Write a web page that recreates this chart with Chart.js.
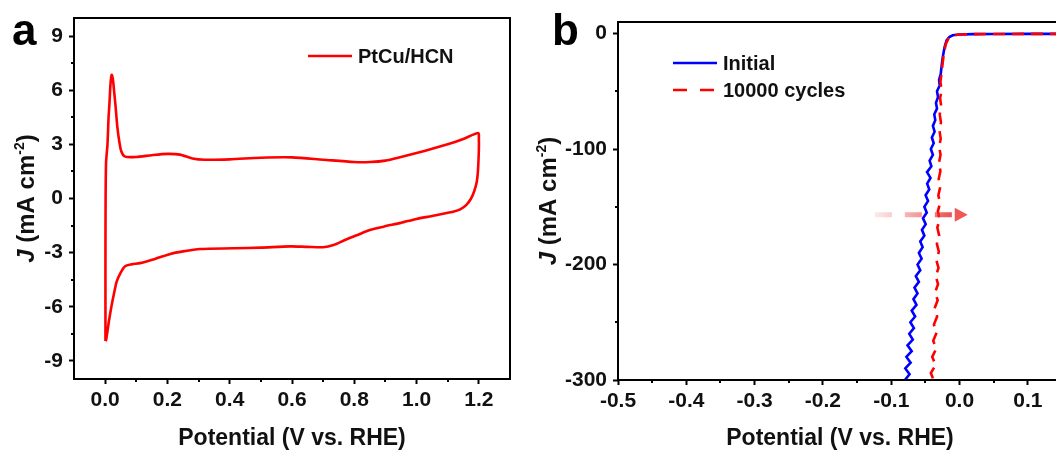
<!DOCTYPE html>
<html>
<head>
<meta charset="utf-8">
<script src="https://cdn.jsdelivr.net/npm/chart.js@4.4.1/dist/chart.umd.min.js"></script>
<style>
html, body { margin:0; padding:0; background:#fff; overflow:hidden; width:1056px; height:454px; }
#cvChart { position:absolute; left:0; top:0; }
#lsvChart { position:absolute; left:530px; top:0; }
</style>
</head>
<body>
<canvas id="cvChart" width="528" height="454"></canvas>
<canvas id="lsvChart" width="560" height="454"></canvas>
<script>
// ---- panel a : CV of PtCu/HCN ----
var cvPotential = [0.001, 0.001, 0.001, 0.0015, 0.003, 0.0075, 0.011, 0.014, 0.017, 0.021, 0.025, 0.029, 0.033, 0.039, 0.045, 0.052, 0.064,
  0.1, 0.15, 0.2, 0.24, 0.28, 0.32, 0.4, 0.5, 0.6, 0.7, 0.8, 0.85, 0.9, 0.95, 1.0, 1.05, 1.1, 1.15, 1.198,
  1.2, 1.2, 1.197, 1.193, 1.185, 1.175, 1.16, 1.14, 1.12, 1.097, 1.05, 1.0, 0.95, 0.894, 0.85, 0.808, 0.77, 0.733, 0.7,
  0.65, 0.594, 0.5, 0.412, 0.305, 0.25, 0.209, 0.16, 0.112, 0.085, 0.064, 0.05, 0.037, 0.028, 0.021, 0.013, 0.007, 0.003, 0.001];
var cvCurrent = [-7.9, -6.0, -3.0, 0.0, 2.0, 3.0, 4.5, 5.3, 6.3, 6.85, 6.6, 5.9, 5.2, 4.0, 3.2, 2.6, 2.32,
  2.3, 2.4, 2.47, 2.43, 2.22, 2.15, 2.17, 2.26, 2.28, 2.15, 2.02, 2.02, 2.1, 2.3, 2.52, 2.75, 3.0, 3.3, 3.63,
  3.3, 2.7, 1.5, 0.9, 0.4, 0.0, -0.35, -0.6, -0.72, -0.8, -0.97, -1.13, -1.35, -1.56, -1.75, -2.04, -2.3, -2.58, -2.7,
  -2.68, -2.65, -2.72, -2.76, -2.8, -2.93, -3.07, -3.35, -3.58, -3.65, -3.75, -4.1, -4.6, -5.3, -5.9, -6.7, -7.4, -7.85, -7.9];
var cvXTicks = [0, 0.2, 0.4, 0.6, 0.8, 1.0, 1.2];
var cvXMinor = [0.1, 0.3, 0.5, 0.7, 0.9, 1.1];
var cvYTicks = [-9, -6, -3, 0, 3, 6, 9];
var cvYMinor = [-7.5, -4.5, -1.5, 1.5, 4.5, 7.5];

// ---- panel b : LSV before / after 10000 cycles ----
var initPotential = [0.15, 0.1, 0.05, 0.02, 0.0, -0.01, -0.015, -0.019, -0.022, -0.025, -0.027,
  -0.0275, -0.0300, -0.0290, -0.0330, -0.0315, -0.0345, -0.0330, -0.0370, -0.0355, -0.0390, -0.0365, -0.0405, -0.0378, -0.0420,
  -0.0390, -0.0438, -0.0412, -0.0476, -0.0425, -0.0474, -0.0443, -0.0497, -0.0461, -0.0515, -0.0480, -0.0535, -0.0495, -0.0550,
  -0.0515, -0.0575, -0.0540, -0.0595, -0.0555, -0.0615, -0.0575, -0.0640, -0.0595, -0.0660, -0.0615, -0.0675, -0.0630, -0.0700,
  -0.0650, -0.0720, -0.0668, -0.0736, -0.0684, -0.0762, -0.0700, -0.0778, -0.0716, -0.0794, -0.0732, -0.0800];
var initCurrent = [-0.3, -0.3, -0.4, -0.5, -0.8, -1.5, -3, -6, -12, -22, -32,
  -35, -40, -45, -50, -55, -60, -65, -70, -75, -80, -85, -90, -95, -100,
  -105, -110, -115, -120, -125, -130, -135, -140, -145, -150, -155, -160, -165, -170,
  -175, -180, -185, -190, -195, -200, -205, -210, -215, -220, -225, -230, -235, -240,
  -245, -250, -255, -260, -265, -270, -275, -280, -285, -290, -295, -300];
var cycPotential = [0.15, 0.1, 0.05, 0.02, 0.0, -0.01, -0.016, -0.02, -0.023, -0.025,
  -0.0265, -0.0280, -0.0262, -0.0285, -0.0268, -0.0290, -0.0272, -0.0293, -0.0276, -0.0298,
  -0.0278, -0.0302, -0.0280, -0.0305, -0.0283, -0.0310, -0.0285, -0.0318, -0.0292, -0.0325,
  -0.0298, -0.0332, -0.0303, -0.0340, -0.0308, -0.0348, -0.0315, -0.0357, -0.0320, -0.0365,
  -0.0328, -0.0375, -0.0335, -0.0385, -0.0342, -0.0400, -0.0350, -0.0420, -0.0380];
var cycCurrent = [-0.3, -0.3, -0.4, -0.5, -0.8, -1.6, -4, -9, -17, -27,
  -35, -42, -49, -56, -63, -70, -77, -84, -91, -98,
  -105, -112, -119, -126, -133, -140, -147, -154, -161, -168,
  -175, -182, -189, -196, -203, -210, -217, -224, -231, -238,
  -245, -252, -259, -266, -273, -280, -287, -294, -300];
var lsvXTicks = [-0.5, -0.4, -0.3, -0.2, -0.1, 0, 0.1];
var lsvXMinor = [-0.45, -0.35, -0.25, -0.15, -0.05, 0.05];
var lsvYTicks = [-300, -200, -100, 0];
var lsvYMinor = [-250, -150, -50];
// shift arrow (potential, current)
var arrowFrom = [-0.124, -157];
var arrowTo = [0.012, -157];

var FONT = '"Liberation Sans", Arial, sans-serif';
var INK = '#111';

function toPoints(xs, ys) {
    return xs.map(function(x, i) { return {x: x, y: ys[i]}; });
}

function axis(min, max, vals, digits, fit, isX, pad) {
    return {
        type: 'linear',
        min: min,
        max: max,
        afterBuildTicks: function(s) { s.ticks = vals.map(function(v) { return {value: v}; }); },
        afterFit: function(s) {
            if (isX) s.height = fit; else s.width = fit;
            s.paddingLeft = 0; s.paddingRight = 0; s.paddingTop = 0; s.paddingBottom = 0;
        },
        ticks: {
            autoSkip: false, maxRotation: 0, padding: pad, color: INK,
            font: {family: FONT, size: 21, weight: 'bold'},
            callback: function(v) { return Number(v).toFixed(digits); }
        },
        grid: {drawOnChartArea: false, drawTicks: true, tickLength: 5, tickWidth: 2, tickColor: '#000'},
        border: {display: false}
    };
}

function drawYTitle(ctx, cx, cy) {
    var parts = [
        {t: 'J', f: 'italic bold 24px ' + FONT, dy: 0},
        {t: ' (mA cm', f: 'bold 24px ' + FONT, dy: 0},
        {t: '-2', f: 'bold 14px ' + FONT, dy: -10},
        {t: ')', f: 'bold 24px ' + FONT, dy: 0}
    ];
    ctx.save();
    ctx.translate(cx, cy);
    ctx.rotate(-Math.PI / 2);
    var w = 0;
    parts.forEach(function(p) { ctx.font = p.f; p.w = ctx.measureText(p.t).width; w += p.w; });
    var x = -w / 2;
    ctx.fillStyle = INK;
    ctx.textBaseline = 'alphabetic';
    parts.forEach(function(p) { ctx.font = p.f; ctx.fillText(p.t, x, 9 + p.dy); x += p.w; });
    ctx.restore();
}

// frame, minor ticks, titles, panel letter
function decor(cfg) {
    return {
        id: 'decor',
        afterDraw: function(chart) {
            var ctx = chart.ctx, a = chart.chartArea;
            var xs = chart.scales.x, ys = chart.scales.y;
            ctx.save();
            ctx.strokeStyle = '#000';
            ctx.lineWidth = 2;
            ctx.strokeRect(a.left, a.top, a.right - a.left, a.bottom - a.top);
            // minor ticks
            ctx.beginPath();
            cfg.xMinor.forEach(function(v) {
                var p = Math.round(xs.getPixelForValue(v));
                ctx.moveTo(p, a.bottom); ctx.lineTo(p, a.bottom + 3);
            });
            cfg.yMinor.forEach(function(v) {
                var p = Math.round(ys.getPixelForValue(v));
                ctx.moveTo(a.left, p); ctx.lineTo(a.left - 3, p);
            });
            ctx.stroke();
            // x title
            ctx.fillStyle = INK;
            ctx.font = 'bold 23px ' + FONT;
            ctx.textAlign = 'center';
            ctx.textBaseline = 'alphabetic';
            ctx.fillText('Potential (V vs. RHE)', (a.left + a.right) / 2, 445);
            ctx.textAlign = 'left';
            drawYTitle(ctx, cfg.yTitleX, (a.top + a.bottom) / 2);
            // panel letter
            ctx.fillStyle = '#000';
            ctx.font = 'bold 44px ' + FONT;
            ctx.textAlign = 'left';
            ctx.fillText(cfg.letter, cfg.letterX, 45);
            // legend
            ctx.font = 'bold 20px ' + FONT;
            ctx.textBaseline = 'middle';
            cfg.legend.forEach(function(l) {
                ctx.strokeStyle = l.color;
                ctx.lineWidth = 2.5;
                ctx.setLineDash(l.dash || []);
                ctx.beginPath();
                ctx.moveTo(l.x, l.y); ctx.lineTo(l.x + 44, l.y);
                ctx.stroke();
                ctx.setLineDash([]);
                ctx.fillStyle = INK;
                ctx.fillText(l.text, l.x + 50, l.y + 1);
            });
            if (cfg.arrow) cfg.arrow(chart);
            ctx.restore();
        }
    };
}

function drawArrow(chart) {
    var ctx = chart.ctx;
    var x0 = chart.scales.x.getPixelForValue(arrowFrom[0]);
    var x1 = chart.scales.x.getPixelForValue(arrowTo[0]);
    var y = chart.scales.y.getPixelForValue(arrowFrom[1]);
    var g = ctx.createLinearGradient(x0, 0, x1, 0);
    g.addColorStop(0, 'rgba(235,80,80,0.12)');
    g.addColorStop(1, 'rgba(230,30,30,0.95)');
    ctx.strokeStyle = g;
    ctx.lineWidth = 5;
    ctx.setLineDash([17, 13]);
    ctx.beginPath();
    ctx.moveTo(x0, y); ctx.lineTo(x1 - 14, y);
    ctx.stroke();
    ctx.setLineDash([]);
    ctx.fillStyle = 'rgba(238,70,70,0.9)';
    ctx.beginPath();
    ctx.moveTo(x1 - 13, y - 7); ctx.lineTo(x1, y); ctx.lineTo(x1 - 13, y + 7);
    ctx.closePath();
    ctx.fill();
}

new Chart(document.getElementById('cvChart').getContext('2d'), {
    type: 'line',
    data: {
        datasets: [{
            label: 'PtCu/HCN',
            data: toPoints(cvPotential, cvCurrent),
            borderColor: '#ff0000',
            borderWidth: 2.6,
            pointRadius: 0,
            tension: 0.25,
            fill: false
        }]
    },
    options: {
        responsive: false,
        animation: false,
        layout: {padding: {top: 18, right: 18, left: 0, bottom: 0}},
        plugins: {legend: {display: false}, tooltip: {enabled: false}},
        scales: {
            x: axis(-0.1, 1.3, cvXTicks, 1, 75, true, 4),
            y: axis(-10, 10, cvYTicks, 0, 74, false, 6)
        }
    },
    plugins: [decor({
        xMinor: cvXMinor, yMinor: cvYMinor, yTitleX: 25, letter: 'a', letterX: 12,
        legend: [{x: 308, y: 56, color: '#ff0000', text: 'PtCu/HCN'}]
    })]
});

new Chart(document.getElementById('lsvChart').getContext('2d'), {
    type: 'line',
    data: {
        datasets: [{
            label: '10000 cycles',
            data: toPoints(cycPotential, cycCurrent),
            borderColor: '#ff0000',
            borderWidth: 2.6,
            borderDash: [12, 7],
            pointRadius: 0,
            tension: 0,
            fill: false,
            order: 0
        }, {
            label: 'Initial',
            data: toPoints(initPotential, initCurrent),
            borderColor: '#0000ff',
            borderWidth: 2.6,
            pointRadius: 0,
            tension: 0,
            fill: false,
            order: 1
        }]
    },
    options: {
        responsive: false,
        animation: false,
        layout: {padding: {top: 22, right: 28, left: 0, bottom: 0}},
        plugins: {legend: {display: false}, tooltip: {enabled: false}},
        scales: {
            x: axis(-0.5, 0.15, lsvXTicks, 1, 74, true, 4),
            y: axis(-300, 10, lsvYTicks, 0, 88, false, 6)
        }
    },
    plugins: [decor({
        xMinor: lsvXMinor, yMinor: lsvYMinor, yTitleX: 17, letter: 'b', letterX: 22,
        legend: [
            {x: 143, y: 63, color: '#0000ff', text: 'Initial'},
            {x: 143, y: 90, color: '#ff0000', dash: [14, 13], text: '10000 cycles'}
        ],
        arrow: drawArrow
    })]
});
</script>
</body>
</html>
